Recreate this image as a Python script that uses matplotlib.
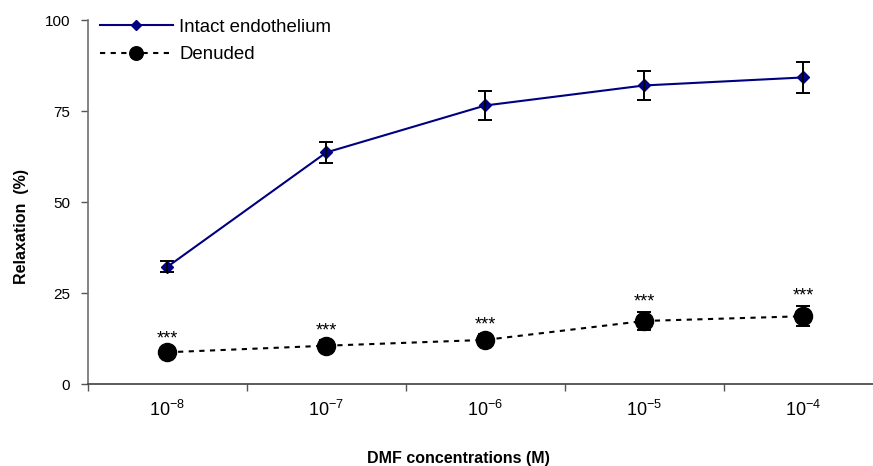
import matplotlib
matplotlib.use('Agg')
import matplotlib.pyplot as plt
import numpy as np

# ---- data ----
concentrations = [r'$\mathregular{10^{-8}}$', r'$\mathregular{10^{-7}}$', r'$\mathregular{10^{-6}}$',
                  r'$\mathregular{10^{-5}}$', r'$\mathregular{10^{-4}}$']
intact = [32.3, 63.7, 76.6, 82.1, 84.3]
intact_err = [1.5, 3.0, 3.9, 4.1, 4.3]
denuded = [8.8, 10.6, 12.2, 17.4, 18.7]
denuded_err = [1.0, 1.5, 1.5, 2.5, 2.8]
significance = ['***', '***', '***', '***', '***']
yticks = [0, 25, 50, 75, 100]

plt.rcParams['font.family'] = ['Liberation Sans', 'DejaVu Sans']
plt.rcParams['mathtext.fontset'] = 'custom'
plt.rcParams['mathtext.rm'] = 'Liberation Sans'
plt.rcParams['mathtext.it'] = 'Liberation Sans:italic'
plt.rcParams['mathtext.bf'] = 'Liberation Sans:bold'

W, H = 873, 466
fig = plt.figure(figsize=(W / 100, H / 100), dpi=100)
ax_left, ax_bottom, ax_top = 88, 384.3, 20.3
ax = fig.add_axes([ax_left / W, (H - ax_bottom) / H, 1 - ax_left / W, (ax_bottom - ax_top) / H])

x = np.arange(len(concentrations))

# Intact endothelium
ax.plot(x, intact, color='#000080', lw=1.5, marker='D', ms=6.5,
        label='Intact endothelium', zorder=3)
ax.errorbar(x, intact, yerr=intact_err, fmt='none', ecolor='black',
            elinewidth=1.4, capsize=4.8, capthick=1.4, zorder=4)

# Denuded
ax.plot(x, denuded, color='black', lw=1.5, ls=(0, (2.5, 2.6)), marker='o', ms=13,
        label='Denuded', zorder=3)
ax.errorbar(x, denuded, yerr=denuded_err, fmt='none', ecolor='black',
            elinewidth=1.4, capsize=4.8, capthick=1.4, zorder=4)

for xi, yi, ei, s in zip(x, denuded, denuded_err, significance):
    ax.annotate(s, xy=(xi, yi + ei), xytext=(0, 7), textcoords='offset points',
                ha='center', va='center', fontsize=13)

# axes styling
ax.set_xlim(-0.5, 4.44)
ax.set_ylim(0, 100)
ax.set_yticks(yticks)
ax.set_yticklabels([str(t) for t in yticks])
ax.set_xticks(x)
ax.set_xticklabels(concentrations)
ax.set_xticks(np.arange(-0.5, 4.5, 1.0), minor=True)
ax.tick_params(axis='x', which='major', length=0, pad=11, labelsize=13)
ax.tick_params(axis='x', which='minor', length=5, width=1, color='#555555', direction='out')
ax.tick_params(axis='y', length=5, width=1, color='#555555', direction='out', pad=8, labelsize=11)
for side in ['top', 'right']:
    ax.spines[side].set_visible(False)
ax.spines['left'].set_color('#707070')
ax.spines['bottom'].set_color('#404040')
ax.spines['left'].set_linewidth(1.2)
ax.spines['bottom'].set_linewidth(1.2)

fig.text(458 / W, 1 - 458 / H, 'DMF concentrations (M)', ha='center', va='center',
         fontsize=11.5, fontweight='bold')
fig.text(22 / W, 1 - 226 / H, 'Relaxation  (%)', ha='center', va='center', rotation=90,
         fontsize=11.5, fontweight='bold')

leg = ax.legend(loc='upper left', bbox_to_anchor=(12 / (W - ax_left), 1.004),
                frameon=False, fontsize=13.4, handlelength=3.9, handletextpad=0.35,
                labelspacing=0.56, markerscale=0.75, borderpad=0, borderaxespad=0)

fig.savefig('out.png', dpi=100)
